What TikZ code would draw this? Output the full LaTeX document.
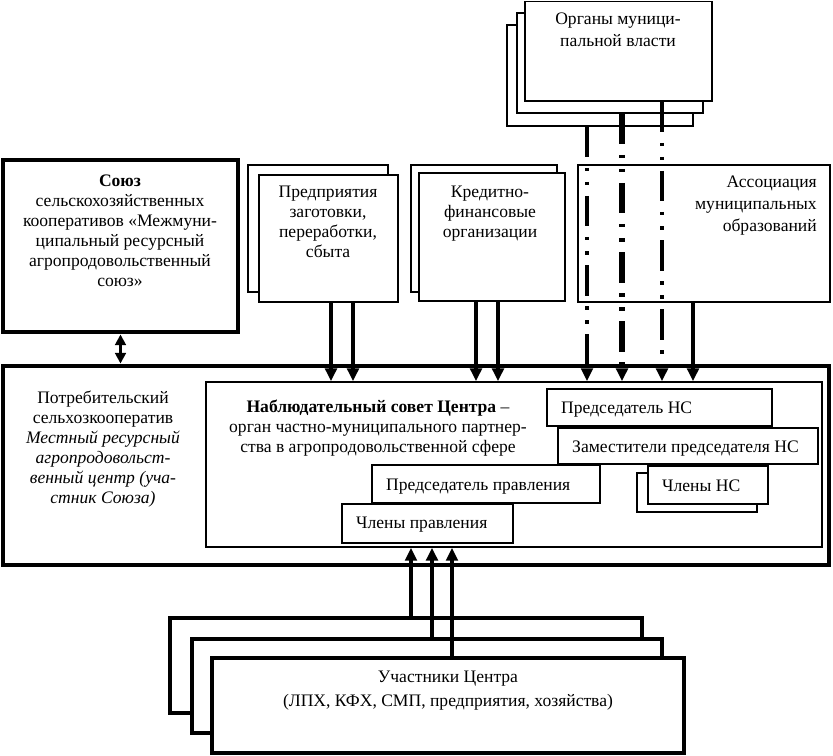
\documentclass[tikz,border=0pt]{standalone}
\usepackage{fontspec}
\setmainfont{Liberation Serif}
\usetikzlibrary{fit,arrows.meta}
\newcommand\mybox[6]{\node[#2, fit={(#3,#4)(#5,#6)}] (#1) {};}
\begin{document}
\begin{tikzpicture}[x=0.3mm,y=-0.3mm,
  thinbox/.style={draw, line width=1.4pt, fill=white, inner sep=0pt},
  thickbox/.style={draw, line width=4.2pt, fill=white, inner sep=0pt},
  midbox/.style={draw, line width=3.2pt, fill=white, inner sep=0pt},
  txt/.style={font=\fontsize{15pt}{17pt}\selectfont, align=center, inner sep=0pt, anchor=north},
  ltxt/.style={font=\fontsize{15pt}{17pt}\selectfont, inner sep=0pt, anchor=base west},
  arr/.style={-{Triangle[width=10pt,length=11pt]}},
  ddot/.style={dash pattern=on 26pt off 9pt on 3pt off 9pt on 3pt off 9pt}
]
\useasboundingbox (0,0) rectangle (833,756);
% Organy
\mybox{og3}{thinbox}{507}{25}{693}{126}
\mybox{og2}{thinbox}{517}{13}{703}{113}
\mybox{og1}{thinbox}{525}{1.5}{712}{101}
\node[txt, font=\fontsize{15pt}{18.7pt}\selectfont] (ogt) at (618,13) {Органы муници-\\пальной власти};
% Soyuz
\mybox{soyuz}{thickbox}{3}{160}{238}{332}
\node[txt] (soyuzt) at (120,175) {\textbf{Союз}\\сельскохозяйственных\\кооперативов «Межмуни-\\ципальный ресурсный\\агропродовольственный\\союз»};
% Predpriyatiya
\mybox{pr2}{thinbox}{248}{165}{388}{292}
\mybox{pr1}{thinbox}{259}{175}{398}{302}
\node[txt] (prt) at (328,186) {Предприятия\\заготовки,\\переработки,\\сбыта};
% Kredit
\mybox{kr2}{thinbox}{411}{165}{557}{292}
\mybox{kr1}{thinbox}{419}{173}{565}{301}
\node[txt] (krt) at (490,186) {Кредитно-\\финансовые\\организации};
% Assoc
\mybox{as}{thinbox}{578}{165}{830}{302}
\node[txt, align=right, anchor=north east, font=\fontsize{15pt}{18.7pt}\selectfont] (ast) at (817,176) {Ассоциация\\муниципальных\\образований};
% outer box
\mybox{ob}{thickbox}{3}{366}{829}{565}
\node[txt] (pot) at (103,391) {Потребительский\\сельхозкооператив\\\textit{Местный ресурсный}\\\textit{агропродовольст-}\\\textit{венный центр (уча-}\\\textit{стник Союза)}};
% inner box
\mybox{ns}{thinbox}{206}{382}{822}{547}
\node[txt] (nst) at (378,400) {\textbf{Наблюдательный совет Центра} –\\орган частно-муниципального партнер-\\ства в агропродовольственной сфере};
\mybox{pns}{thinbox}{547}{389}{772}{426}
\node[ltxt] (pnst) at (561,413) {Председатель НС};
\mybox{zam}{thinbox}{558}{428}{818}{464}
\node[ltxt] (zamt) at (572,452) {Заместители председателя НС};
\mybox{ppr}{thinbox}{372}{465}{600}{503}
\node[ltxt] (pprt) at (386,490) {Председатель правления};
\mybox{chpr}{thinbox}{342}{504}{513}{543}
\node[ltxt] (chprt) at (356,528) {Члены правления};
\mybox{chns2}{thinbox}{637}{473}{757}{512}
\mybox{chns1}{thinbox}{648}{466}{768}{504}
\node[ltxt] (chnst) at (662,491) {Члены НС};
% bottom
\mybox{u3}{midbox}{170}{618}{642}{713}
\mybox{u2}{midbox}{192}{639}{662}{733}
\mybox{u1}{midbox}{212}{658}{684}{753}
\node[txt, font=\fontsize{15pt}{20.4pt}\selectfont] (ut) at (448,671) {Участники Центра\\(ЛПХ, КФХ, СМП, предприятия, хозяйства)};
% connectors
\draw[line width=2.5pt, {Triangle[width=9pt,length=9pt]}-{Triangle[width=9pt,length=9pt]}] (soyuz.south) -- (soyuz.south |- ob.north);
\draw[arr, line width=4.2pt] (331,0 |- pr1.south) -- (331,0 |- ns.north);
\draw[arr, line width=3.4pt] (353,0 |- pr1.south) -- (353,0 |- ns.north);
\draw[arr, line width=3.4pt] (476,0 |- kr1.south) -- (476,0 |- ns.north);
\draw[arr, line width=3.4pt] (498,0 |- kr1.south) -- (498,0 |- ns.north);
\draw[arr, ddot, line width=2.6pt] (587,0 |- og3.south) -- (587,0 |- ns.north);
\draw[arr, ddot, line width=5pt] (622,0 |- og2.south) -- (622,0 |- ns.north);
\draw[arr, ddot, line width=3pt] (662,0 |- og1.south) -- (662,0 |- ns.north);
\draw[arr, line width=3.6pt] (693,0 |- as.south) -- (693,0 |- ns.north);
\draw[arr, line width=2.6pt] (411,0 |- u3.north) -- (411,0 |- ns.south);
\draw[arr, line width=4.2pt] (432,0 |- u2.north) -- (432,0 |- ns.south);
\draw[arr, line width=2.6pt] (452,0 |- u1.north) -- (452,0 |- ns.south);
\end{tikzpicture}
\end{document}
